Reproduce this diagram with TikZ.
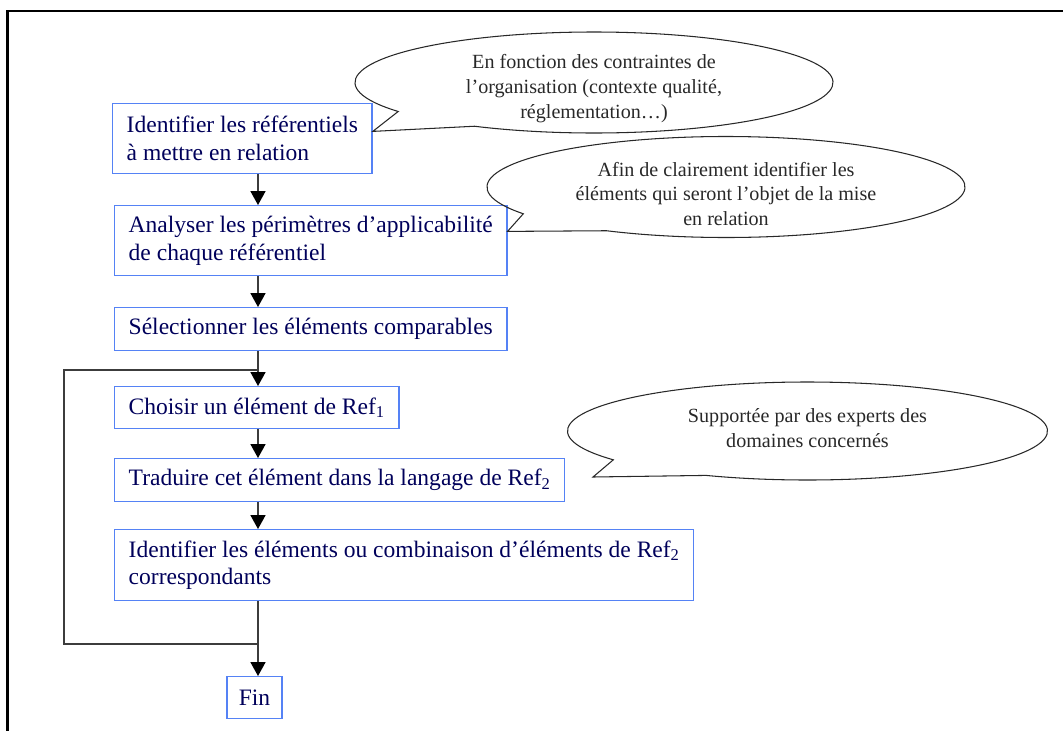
\documentclass[tikz,border=0pt]{standalone}
\usepackage{fontspec}
\setmainfont{Liberation Serif}
\usetikzlibrary{arrows.meta, calc}
\definecolor{colBox}{RGB}{85,130,245}
\definecolor{colText}{RGB}{0,0,90}
\definecolor{colLine}{RGB}{60,60,60}
\definecolor{colNote}{RGB}{40,40,40}
\tikzset{
  stepBox/.style={
    rectangle, draw=colBox, line width=0.8pt,
    anchor=north west, align=left, text=colText,
    font=\fontsize{13.4}{15.9}\selectfont,
    inner xsep=0.28cm, inner ysep=0pt
  },
  noteText/.style={align=center, text=colNote, font=\fontsize{11.45}{14.2}\selectfont, inner sep=0pt},
  callout/.style={draw=colNote, line width=0.6pt, line join=miter},
  flowLine/.style={draw=colLine, line width=0.9pt},
  arr/.style={flowLine, -{Triangle[length=7.9pt, width=8.5pt, color=black]}}
}

\begin{document}
\begin{tikzpicture}[x=0.02cm, y=-0.02cm]
  \useasboundingbox (0,0) rectangle (1063,731);

  % page frame (top and left only)
  \draw[line width=1.6pt] (7.5,731) -- (7.5,11) -- (1063,11);

  \coordinate (spine) at (258,0);

  % steps
  \node[stepBox, minimum height=1.4cm] (ident) at (112,103) {Identifier les référentiels\\à mettre en relation};
  \node[stepBox, minimum height=1.4cm] (analyse) at (114,205) {Analyser les périmètres d’applicabilité\\de chaque référentiel};
  \node[stepBox, minimum height=0.86cm] (select) at (114,307) {Sélectionner les éléments comparables};
  \node[stepBox, minimum height=0.84cm] (choose) at (114,386) {Choisir un élément de Ref\textsubscript{1}};
  \node[stepBox, minimum height=0.86cm] (translate) at (114,458) {Traduire cet élément dans la langage de Ref\textsubscript{2}};
  \node[stepBox, minimum height=1.42cm] (match) at (114,529) {Identifier les éléments ou combinaison d’éléments de Ref\textsubscript{2}\\correspondants};
  \node[stepBox, anchor=north, minimum height=0.84cm, inner xsep=0.24cm] (fin) at (254.5,676) {Fin};

  % main flow
  \draw[arr] (ident.south -| spine) -- (analyse.north -| spine);
  \draw[arr] (analyse.south -| spine) -- (select.north -| spine);
  \draw[arr] (select.south -| spine) -- (choose.north -| spine);
  \draw[arr] (choose.south -| spine) -- (translate.north -| spine);
  \draw[arr] (translate.south -| spine) -- (match.north -| spine);
  \draw[arr] (match.south -| spine) -- (fin.north -| spine);

  % loop back to the next element
  \coordinate (loopTop) at (258,370);
  \coordinate (loopBot) at (258,644);
  \draw[flowLine] (loopBot) -- ++(-194,0) |- (loopTop);

  % callouts
  \coordinate (c1) at (594,82.5);
  \coordinate (c2) at (726,187);
  \coordinate (c3) at (807.5,431);
  \coordinate (tip3) at (593,477);
  \draw[callout] ($(ident.south east)+(0,-43)$) -- ($(c1)+(145:239 and 50.5)$)
    arc[start angle=145, end angle=480, x radius=239, y radius=50.5] -- cycle;
  \draw[callout] ($(analyse.south east)+(0,-45)$) -- ($(c2)+(148:239 and 50.5)$)
    arc[start angle=148, end angle=480, x radius=239, y radius=50.5] -- cycle;
  \draw[callout] (tip3) -- ($(c3)+(144:240 and 49)$)
    arc[start angle=144, end angle=475, x radius=240, y radius=49] -- cycle;

  \node[noteText] (note1) at (594,89) {En fonction des contraintes de\\l’organisation (contexte qualité,\\réglementation…)};
  \node[noteText] (note2) at (726,194) {Afin de clairement identifier les\\éléments qui seront l’objet de la mise\\en relation};
  \node[noteText] (note3) at (807.5,428) {Supportée par des experts des\\domaines concernés};

\end{tikzpicture}
\end{document}
